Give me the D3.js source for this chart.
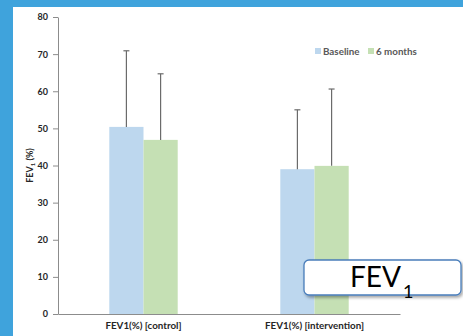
<!DOCTYPE html>
<html>
<head>
<meta charset="utf-8">
<script src="https://cdn.jsdelivr.net/npm/d3@7/dist/d3.min.js"></script>
<style>
  html, body { margin: 0; padding: 0; background: #3fa3dc; }
  svg { display: block; }
  text { font-family: Lato, "Open Sans", sans-serif; }
</style>
</head>
<body>
<script>
// Chart data
const categories = ["FEV1(%) [control]", "FEV1(%) [intervention]"];
const seriesNames = ["Baseline", "6 months"];
const baselineValues = [50.4, 39.0];
const sixMonthValues = [46.9, 39.9];
const baselineSD = [20.5, 16.0];
const sixMonthSD = [17.8, 20.7];
const yTicks = [0, 10, 20, 30, 40, 50, 60, 70, 80];

const W = 463, H = 336;
const colors = ["#bdd7ee", "#c5e0b4"];
const seriesValues = [baselineValues, sixMonthValues];
const seriesSD = [baselineSD, sixMonthSD];

const svg = d3.select("body").append("svg")
  .attr("width", W).attr("height", H);

const defs = svg.append("defs");
const shadow = defs.append("filter").attr("id", "shadow")
  .attr("x", "-10%").attr("y", "-20%").attr("width", "125%").attr("height", "160%");
shadow.append("feDropShadow").attr("dx", 1.5).attr("dy", 2)
  .attr("stdDeviation", 1.5).attr("flood-color", "#000").attr("flood-opacity", 0.35);

// white slide panel
svg.append("rect").attr("x", 13).attr("y", 7)
  .attr("width", W - 13).attr("height", H - 7).attr("fill", "#ffffff");

const plot = { left: 58, right: 400, top: 17, bottom: 314 };

const x = d3.scaleBand().domain(categories).range([plot.left, plot.right]);
const groupWidth = x.bandwidth() * 0.4;
const xInner = d3.scaleBand().domain(seriesNames).range([0, groupWidth]);
const y = d3.scaleLinear().domain([0, 80]).range([plot.bottom, plot.top]);

// bars
const rows = [];
categories.forEach((c, i) => {
  seriesNames.forEach((s, j) => {
    rows.push({ c, s, j, v: seriesValues[j][i], sd: seriesSD[j][i] });
  });
});

const g = svg.append("g");
g.selectAll("rect.bar").data(rows).join("rect")
  .attr("class", "bar")
  .attr("x", d => x(d.c) + (x.bandwidth() - groupWidth) / 2 + xInner(d.s))
  .attr("width", xInner.bandwidth())
  .attr("y", d => y(d.v))
  .attr("height", d => y(0) - y(d.v))
  .attr("fill", d => colors[d.j]);

// upper error bars
const cx = d => x(d.c) + (x.bandwidth() - groupWidth) / 2 + xInner(d.s) + xInner.bandwidth() / 2;
g.selectAll("line.err").data(rows).join("line")
  .attr("class", "err")
  .attr("x1", cx).attr("x2", cx)
  .attr("y1", d => y(d.v)).attr("y2", d => y(d.v + d.sd))
  .attr("stroke", "#6b6b6b").attr("stroke-width", 1.2);
g.selectAll("line.cap").data(rows).join("line")
  .attr("class", "cap")
  .attr("x1", d => cx(d) - 3).attr("x2", d => cx(d) + 3)
  .attr("y1", d => y(d.v + d.sd)).attr("y2", d => y(d.v + d.sd))
  .attr("stroke", "#6b6b6b").attr("stroke-width", 1.2);

// axes
const yAxis = svg.append("g")
  .attr("transform", `translate(${plot.left},0)`)
  .call(d3.axisLeft(y).tickValues(yTicks).tickSize(5).tickSizeOuter(0).tickPadding(5));
yAxis.select(".domain").attr("stroke", "#8c8c8c");
yAxis.selectAll(".tick line").attr("stroke", "#8c8c8c");
yAxis.selectAll(".tick text")
  .attr("font-family", "Lato, sans-serif").attr("font-weight", "bold")
  .attr("font-size", 9).attr("fill", "#262626");

const xAxis = svg.append("g")
  .attr("transform", `translate(0,${plot.bottom})`)
  .call(d3.axisBottom(x).tickSize(0).tickSizeOuter(0).tickPadding(8));
xAxis.select(".domain").attr("stroke", "#8c8c8c");
xAxis.selectAll(".tick text")
  .attr("font-family", "Lato, sans-serif").attr("font-weight", "bold")
  .attr("font-size", 9.8).attr("fill", "#262626");

// y axis title
const yTitle = svg.append("text")
  .attr("transform", `translate(33,${(plot.top + plot.bottom) / 2}) rotate(-90)`)
  .attr("text-anchor", "middle")
  .attr("font-weight", "bold").attr("font-size", 9).attr("fill", "#262626");
yTitle.append("tspan").text("FEV");
yTitle.append("tspan").attr("font-size", 6).attr("dy", 2).text("1");
yTitle.append("tspan").attr("dy", -2).text(" (%)");

// legend
const legend = svg.append("g").attr("transform", "translate(315,51)");
const legendX = [0, 53];
seriesNames.forEach((s, j) => {
  const lg = legend.append("g").attr("transform", `translate(${legendX[j]},0)`);
  lg.append("rect").attr("x", 0).attr("y", -3).attr("width", 6).attr("height", 6)
    .attr("fill", colors[j]);
  lg.append("text").attr("x", 8).attr("y", 3.5)
    .attr("font-weight", "bold").attr("font-size", 9.8).attr("fill", "#595959")
    .text(s);
});

// FEV1 callout
const callout = svg.append("g");
callout.append("rect")
  .attr("x", 304).attr("y", 260).attr("width", 157).attr("height", 35)
  .attr("rx", 5).attr("ry", 5)
  .attr("fill", "#ffffff").attr("stroke", "#4a7ebb").attr("stroke-width", 1.3)
  .attr("filter", "url(#shadow)");
const ct = callout.append("text")
  .attr("x", 350).attr("y", 287)
  .attr("font-size", 28).attr("fill", "#000");
ct.append("tspan").text("FEV");
ct.append("tspan").attr("font-size", 18).attr("dy", 11).attr("dx", 2).text("1");
</script>
</body>
</html>
